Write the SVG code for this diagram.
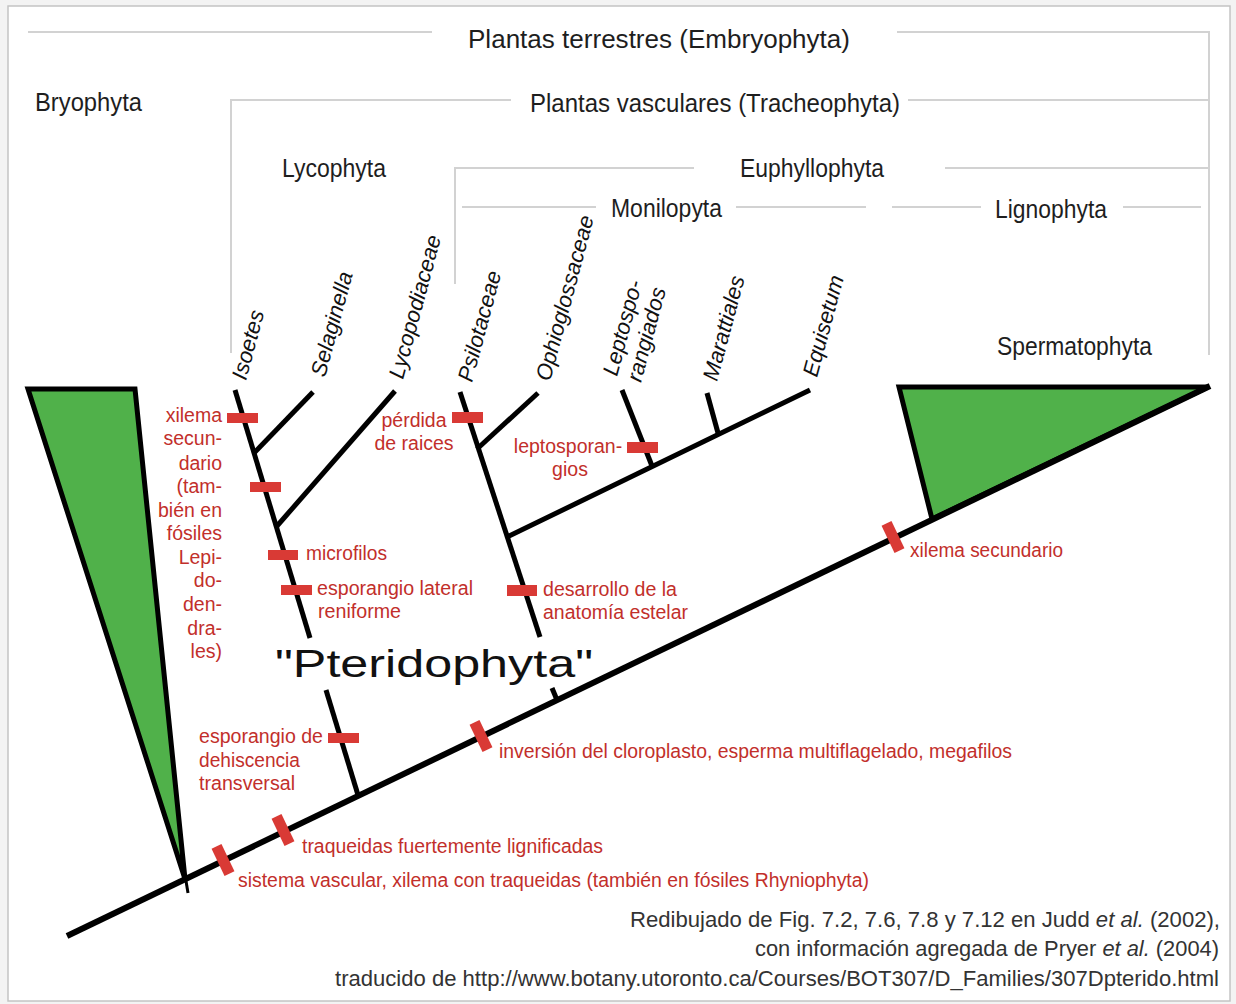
<svg xmlns="http://www.w3.org/2000/svg" width="1236" height="1004" viewBox="0 0 1236 1004">
<defs>
<style>
.frame{fill:#ffffff;stroke:#c4c4c4;stroke-width:1.5}
.brk{fill:none;stroke:#d2d2d2;stroke-width:2}
.grp{font-family:"Liberation Sans",Arial,sans-serif;font-size:26px;fill:#1e1e1e}
.tax{font-family:"Liberation Sans",Arial,sans-serif;font-size:22px;font-style:italic;fill:#111}
.red{font-family:"Liberation Sans",Arial,sans-serif;font-size:19.5px;fill:#c22f2b}
.foot{font-family:"Liberation Sans",Arial,sans-serif;font-size:22px;fill:#333}
.tri{fill:#50b14a;stroke:#000;stroke-width:5;stroke-linejoin:miter}
.br{fill:none;stroke:#000;stroke-width:5;stroke-linecap:butt}
.bar{fill:#d93a35}
</style>
</defs>
<rect x="0" y="0" width="1236" height="1004" fill="#f3f3f3"/>
<rect class="frame" x="8" y="6" width="1222" height="995"/>

<g id="brackets">
<path class="brk" d="M28,32 H432 M897,32 H1209 V355"/>
<path class="brk" d="M231,353 V100 H511 M908,100 H1209"/>
<path class="brk" d="M455,284 V168 H694 M945,168 H1209"/>
<path class="brk" d="M462,207 H596 M736,207 H866"/>
<path class="brk" d="M892,207 H981 M1123,207 H1201"/>
</g>

<g id="group-labels">
<text id="lbl-embryophyta" class="grp" x="468" y="48" font-size="30" textLength="382" lengthAdjust="spacingAndGlyphs">Plantas terrestres (Embryophyta)</text>
<text id="lbl-tracheophyta" class="grp" x="530" y="112" textLength="370" lengthAdjust="spacingAndGlyphs">Plantas vasculares (Tracheophyta)</text>
<text id="lbl-lycophyta" class="grp" x="282" y="177" textLength="104" lengthAdjust="spacingAndGlyphs">Lycophyta</text>
<text id="lbl-euphyllophyta" class="grp" x="740" y="177" textLength="144" lengthAdjust="spacingAndGlyphs">Euphyllophyta</text>
<text id="lbl-monilopyta" class="grp" x="611" y="217" textLength="111" lengthAdjust="spacingAndGlyphs">Monilopyta</text>
<text id="lbl-lignophyta" class="grp" x="995" y="218" textLength="112" lengthAdjust="spacingAndGlyphs">Lignophyta</text>
</g>

<g id="bryophyta">
<polygon class="tri" points="28,389 135,389 185,879"/>
<line x1="185" y1="875" x2="188" y2="893" stroke="#000" stroke-width="3"/>
<text class="grp" x="35" y="111" font-size="25" textLength="107" lengthAdjust="spacingAndGlyphs">Bryophyta</text>
</g>

<g id="spermatophyta">
<polygon class="tri" points="899,387 1208,387 932,519"/>
<text class="grp" x="997" y="355" textLength="155" lengthAdjust="spacingAndGlyphs">Spermatophyta</text>
</g>

<g id="connectors">
<line x1="67" y1="936" x2="1210" y2="386" stroke="#000" stroke-width="6"/>
<line class="br" x1="235" y1="390" x2="310" y2="638"/>
<line class="br" x1="326" y1="690" x2="358" y2="795"/>
<line class="br" x1="313" y1="392" x2="254" y2="453"/>
<line class="br" x1="395" y1="391" x2="277" y2="526"/>
<line class="br" x1="460" y1="392" x2="540" y2="637"/>
<line class="br" x1="552" y1="688" x2="557" y2="700"/>
<line class="br" x1="538" y1="393" x2="477" y2="449"/>
<line class="br" x1="507" y1="537" x2="810" y2="390" stroke-width="6"/>
<line class="br" x1="622" y1="390" x2="652" y2="466"/>
<line class="br" x1="707" y1="393" x2="718" y2="433"/>
</g>

<g id="taxa">
<text id="t-isoetes" class="tax" transform="translate(246,381) rotate(-75)">Isoetes</text>
<text id="t-selaginella" class="tax" transform="translate(325,378) rotate(-75)">Selaginella</text>
<text id="t-lycopodiaceae" class="tax" transform="translate(403,380) rotate(-75)">Lycopodiaceae</text>
<text id="t-psilotaceae" class="tax" transform="translate(472,383) rotate(-75)">Psilotaceae</text>
<text id="t-ophioglossaceae" class="tax" transform="translate(550,382) rotate(-75)">Ophioglossaceae</text>
<g id="t-leptosporangiados">
<text class="tax" transform="translate(617,377) rotate(-75)">Leptospo-</text>
<text class="tax" transform="translate(641,383) rotate(-75)">rangiados</text>
</g>
<text id="t-marattiales" class="tax" transform="translate(717,382) rotate(-75)">Marattiales</text>
<text id="t-equisetum" class="tax" transform="translate(817,378) rotate(-75)">Equisetum</text>
</g>

<g id="pteridophyta">
<text x="275" y="677" font-family="Liberation Sans, Arial, sans-serif" font-size="38" fill="#111" textLength="318" lengthAdjust="spacingAndGlyphs">"Pteridophyta"</text>
</g>

<g id="marks">
<rect class="bar" x="227" y="413" width="31" height="10"/>
<rect class="bar" x="250" y="482" width="31" height="10"/>
<rect class="bar" x="268" y="550" width="30" height="10"/>
<rect class="bar" x="281" y="585" width="31" height="10"/>
<rect class="bar" x="328" y="733" width="31" height="10"/>
<rect class="bar" x="452" y="412" width="31" height="11"/>
<rect class="bar" x="627" y="442" width="31" height="11"/>
<rect class="bar" x="507" y="585" width="30" height="11"/>
<rect class="bar" x="-5.5" y="-15" width="11" height="30" transform="translate(223,860) rotate(-25.67)"/>
<rect class="bar" x="-5.5" y="-15" width="11" height="30" transform="translate(283,830) rotate(-25.67)"/>
<rect class="bar" x="-5.5" y="-15" width="11" height="30" transform="translate(481,736) rotate(-25.67)"/>
<rect class="bar" x="-5.5" y="-15" width="11" height="30" transform="translate(893,537) rotate(-25.67)"/>
</g>

<g id="char-xilema-lepidodendrales">
<text class="red" text-anchor="end" x="222" y="422">xilema</text>
<text class="red" text-anchor="end" x="222" y="445">secun-</text>
<text class="red" text-anchor="end" x="222" y="470">dario</text>
<text class="red" text-anchor="end" x="222" y="493">(tam-</text>
<text class="red" text-anchor="end" x="222" y="517">bién en</text>
<text class="red" text-anchor="end" x="222" y="540">fósiles</text>
<text class="red" text-anchor="end" x="222" y="564">Lepi-</text>
<text class="red" text-anchor="end" x="222" y="587">do-</text>
<text class="red" text-anchor="end" x="222" y="611">den-</text>
<text class="red" text-anchor="end" x="222" y="635">dra-</text>
<text class="red" text-anchor="end" x="222" y="658">les)</text>
</g>
<g id="char-perdida">
<text class="red" text-anchor="middle" x="414" y="427">pérdida</text>
<text class="red" text-anchor="middle" x="414" y="450">de raices</text>
</g>
<g id="char-leptosporangios">
<text class="red" text-anchor="middle" x="568" y="453">leptosporan-</text>
<text class="red" text-anchor="middle" x="570" y="476">gios</text>
</g>
<g id="char-microfilos">
<text class="red" x="306" y="560" textLength="81" lengthAdjust="spacingAndGlyphs">microfilos</text>
</g>
<g id="char-esporangio-lateral">
<text class="red" x="317" y="595" textLength="156" lengthAdjust="spacingAndGlyphs">esporangio lateral</text>
<text class="red" x="318" y="618" textLength="83" lengthAdjust="spacingAndGlyphs">reniforme</text>
</g>
<g id="char-estelar">
<text class="red" x="543" y="596" textLength="134" lengthAdjust="spacingAndGlyphs">desarrollo de la</text>
<text class="red" x="543" y="619" textLength="145" lengthAdjust="spacingAndGlyphs">anatomía estelar</text>
</g>
<g id="char-dehiscencia">
<text class="red" x="199" y="743" textLength="124" lengthAdjust="spacingAndGlyphs">esporangio de</text>
<text class="red" x="199" y="767" textLength="101" lengthAdjust="spacingAndGlyphs">dehiscencia</text>
<text class="red" x="199" y="790" textLength="96" lengthAdjust="spacingAndGlyphs">transversal</text>
</g>
<g id="char-traqueidas">
<text class="red" x="302" y="853" textLength="301" lengthAdjust="spacingAndGlyphs">traqueidas fuertemente lignificadas</text>
</g>
<g id="char-sistema-vascular">
<text class="red" x="238" y="887" textLength="631" lengthAdjust="spacingAndGlyphs">sistema vascular, xilema con traqueidas (también en fósiles Rhyniophyta)</text>
</g>
<g id="char-inversion">
<text class="red" x="499" y="758" textLength="513" lengthAdjust="spacingAndGlyphs">inversión del cloroplasto, esperma multiflagelado, megafilos</text>
</g>
<g id="char-xilema-secundario">
<text class="red" x="910" y="557" textLength="153" lengthAdjust="spacingAndGlyphs">xilema secundario</text>
</g>

<g id="credits">
<text class="foot" x="630" y="927" textLength="590" lengthAdjust="spacingAndGlyphs">Redibujado de Fig. 7.2, 7.6, 7.8 y 7.12 en Judd <tspan font-style="italic">et al.</tspan> (2002),</text>
<text class="foot" x="755" y="956" textLength="464" lengthAdjust="spacingAndGlyphs">con información agregada de Pryer <tspan font-style="italic">et al.</tspan> (2004)</text>
<text class="foot" x="335" y="986" textLength="884" lengthAdjust="spacingAndGlyphs">traducido de http://www.botany.utoronto.ca/Courses/BOT307/D_Families/307Dpterido.html</text>
</g>
</svg>
